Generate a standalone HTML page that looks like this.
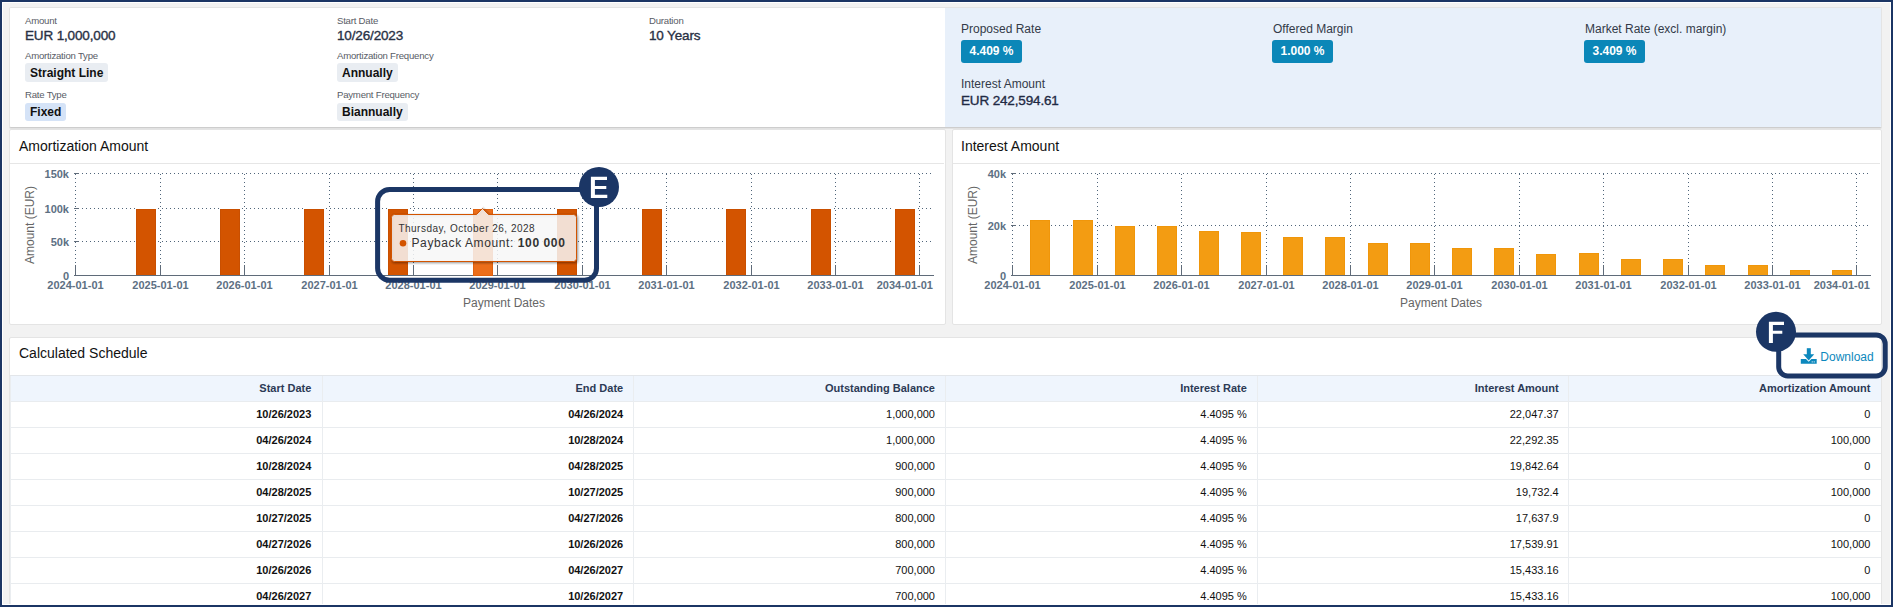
<!DOCTYPE html>
<html><head><meta charset="utf-8">
<style>
*{box-sizing:border-box;margin:0;padding:0}
html,body{width:1893px;height:607px;overflow:hidden;background:#1b3564;font-family:"Liberation Sans",sans-serif;position:relative}
#white{position:absolute;left:2px;top:2px;width:1889px;height:603px;background:#fff}
#bg{position:absolute;left:3px;top:3px;width:1887px;height:601px;background:#f2f2f2}
#clip{position:absolute;left:3px;top:3px;width:1887px;height:601px;overflow:hidden}
#clip>*{position:absolute}
.card{background:#fff;border:1px solid #e4e4e4;border-radius:2px}
.abs{position:absolute;white-space:nowrap}
.lbl{font-size:9.6px;color:#585c66;line-height:11px;letter-spacing:-0.22px}
.val{font-size:13.5px;font-weight:normal;color:#283044;line-height:15px;-webkit-text-stroke:0.35px #283044;letter-spacing:-0.15px}
.chip{position:absolute;height:19px;line-height:18px;padding:1px 5px 0 5px;font-size:12px;font-weight:bold;color:#111;background:#e9edf2;border-radius:3px;white-space:nowrap}
.chip.blue{background:#d5e3f7}
.rl{font-size:12px;color:#333a48;line-height:14px}
.badge{position:absolute;height:23px;line-height:22px;padding:0 8.5px;font-size:12px;font-weight:bold;color:#fff;background:#0b87b8;border-radius:3px;white-space:nowrap}
.ctitle{font-size:14px;color:#111;line-height:16px}
.hline{position:absolute;height:1px;background:#e6e6e6}
.thead{position:absolute;left:10px;width:1871px;height:27px;background:#eff5fd;border-top:1px solid #e3e6ea;border-bottom:1px solid #e3e6ea}
.th{position:absolute;height:25px;line-height:25px;padding-right:10.5px;text-align:right;font-size:11px;font-weight:bold;color:#2c3a55;white-space:nowrap}
.td{position:absolute;height:25px;line-height:25px;padding-right:10.5px;text-align:right;font-size:11px;color:#111;white-space:nowrap}
.td.b{font-weight:bold}
.tline{position:absolute;left:10px;width:1871px;height:1px;background:#e9ecef}
.vline{position:absolute;top:376px;width:1px;height:228px;background:#eaedf0}
</style></head><body>
<div id="white"></div>
<div id="bg"></div>
<div id="clip">
  <!-- all children: page coords minus 3 -->
  <!-- top summary card: border box x 9..1881, y 7..127 -->
  <div class="card" style="left:6px;top:4px;width:1873px;height:121px;overflow:hidden;border-bottom-color:#cdcdcd;box-shadow:0 1px 0 #e2e2e2">
    <div style="position:absolute;left:935px;top:0;width:940px;height:121px;background:#e8f0fa"></div>
  </div>
  <!-- chart cards -->
  <div class="card" style="left:6px;top:126px;width:937px;height:196px"></div>
  <div class="card" style="left:949px;top:126px;width:930px;height:196px"></div>
  <!-- table card -->
  <div class="card" style="left:6px;top:334px;width:1873px;height:300px"></div>
</div>
<!-- content in page coords -->
<div id="content" style="position:absolute;left:0;top:0;width:1893px;height:607px">
  <!-- top-left info -->
  <div class="abs lbl" style="left:25px;top:14.5px">Amount</div>
  <div class="abs val" style="left:25px;top:28px">EUR 1,000,000</div>
  <div class="abs lbl" style="left:25px;top:49.5px">Amortization Type</div>
  <div class="chip" style="left:25px;top:63px">Straight Line</div>
  <div class="abs lbl" style="left:25px;top:88.5px">Rate Type</div>
  <div class="chip blue" style="left:25px;top:103px;height:18px;line-height:17px">Fixed</div>

  <div class="abs lbl" style="left:337px;top:14.5px">Start Date</div>
  <div class="abs val" style="left:337px;top:28px">10/26/2023</div>
  <div class="abs lbl" style="left:337px;top:49.5px">Amortization Frequency</div>
  <div class="chip" style="left:337px;top:63px">Annually</div>
  <div class="abs lbl" style="left:337px;top:88.5px">Payment Frequency</div>
  <div class="chip" style="left:337px;top:103px;height:18px;line-height:17px">Biannually</div>

  <div class="abs lbl" style="left:649px;top:14.5px">Duration</div>
  <div class="abs val" style="left:649px;top:28px">10 Years</div>

  <!-- top-right rates -->
  <div class="abs rl" style="left:961px;top:22px">Proposed Rate</div>
  <div class="badge" style="left:961px;top:40px">4.409 %</div>
  <div class="abs rl" style="left:961px;top:77px">Interest Amount</div>
  <div class="abs val" style="left:961px;top:93px;color:#1f2a44;-webkit-text-stroke-color:#1f2a44">EUR 242,594.61</div>
  <div class="abs rl" style="left:1273px;top:22px">Offered Margin</div>
  <div class="badge" style="left:1272px;top:40px">1.000 %</div>
  <div class="abs rl" style="left:1585px;top:22px">Market Rate (excl. margin)</div>
  <div class="badge" style="left:1584px;top:40px">3.409 %</div>
  <div class="abs ctitle" style="left:19px;top:138px">Amortization Amount</div>
  <div class="hline" style="left:10px;top:163px;width:934px"></div>
  <div class="abs ctitle" style="left:961px;top:138px">Interest Amount</div>
  <div class="hline" style="left:953px;top:163px;width:927px"></div>
  <div class="abs ctitle" style="left:19px;top:345px">Calculated Schedule</div>
  <svg id="charts" width="1893" height="607" viewBox="0 0 1893 607" style="position:absolute;left:0;top:0">
<style>.ax{font:bold 11px "Liberation Sans",sans-serif;fill:#5d7083} .at{font:12px "Liberation Sans",sans-serif;fill:#666666}</style>
<line x1="74" y1="173.5" x2="931" y2="173.5" stroke="#50657a" stroke-dasharray="1,3"/>
<line x1="74" y1="208.5" x2="931" y2="208.5" stroke="#50657a" stroke-dasharray="1,3"/>
<line x1="74" y1="241.5" x2="931" y2="241.5" stroke="#50657a" stroke-dasharray="1,3"/>
<line x1="75.5" y1="174" x2="75.5" y2="265" stroke="#50657a" stroke-dasharray="1,3"/>
<line x1="75.5" y1="265" x2="75.5" y2="275" stroke="#5f6b79"/>
<line x1="160.5" y1="174" x2="160.5" y2="265" stroke="#50657a" stroke-dasharray="1,3"/>
<line x1="160.5" y1="265" x2="160.5" y2="275" stroke="#5f6b79"/>
<line x1="244.5" y1="174" x2="244.5" y2="265" stroke="#50657a" stroke-dasharray="1,3"/>
<line x1="244.5" y1="265" x2="244.5" y2="275" stroke="#5f6b79"/>
<line x1="329.5" y1="174" x2="329.5" y2="265" stroke="#50657a" stroke-dasharray="1,3"/>
<line x1="329.5" y1="265" x2="329.5" y2="275" stroke="#5f6b79"/>
<line x1="413.5" y1="174" x2="413.5" y2="265" stroke="#50657a" stroke-dasharray="1,3"/>
<line x1="413.5" y1="265" x2="413.5" y2="275" stroke="#5f6b79"/>
<line x1="497.5" y1="174" x2="497.5" y2="265" stroke="#50657a" stroke-dasharray="1,3"/>
<line x1="497.5" y1="265" x2="497.5" y2="275" stroke="#5f6b79"/>
<line x1="582.5" y1="174" x2="582.5" y2="265" stroke="#50657a" stroke-dasharray="1,3"/>
<line x1="582.5" y1="265" x2="582.5" y2="275" stroke="#5f6b79"/>
<line x1="666.5" y1="174" x2="666.5" y2="265" stroke="#50657a" stroke-dasharray="1,3"/>
<line x1="666.5" y1="265" x2="666.5" y2="275" stroke="#5f6b79"/>
<line x1="751.5" y1="174" x2="751.5" y2="265" stroke="#50657a" stroke-dasharray="1,3"/>
<line x1="751.5" y1="265" x2="751.5" y2="275" stroke="#5f6b79"/>
<line x1="835.5" y1="174" x2="835.5" y2="265" stroke="#50657a" stroke-dasharray="1,3"/>
<line x1="835.5" y1="265" x2="835.5" y2="275" stroke="#5f6b79"/>
<line x1="919.5" y1="174" x2="919.5" y2="265" stroke="#50657a" stroke-dasharray="1,3"/>
<line x1="919.5" y1="265" x2="919.5" y2="275" stroke="#5f6b79"/>
<rect x="135" y="208" width="22" height="67" fill="#fff"/>
<rect x="136.5" y="209.5" width="19" height="66" fill="#d35400" stroke="#c94f00" stroke-width="1"/>
<rect x="219" y="208" width="22" height="67" fill="#fff"/>
<rect x="220.5" y="209.5" width="19" height="66" fill="#d35400" stroke="#c94f00" stroke-width="1"/>
<rect x="303" y="208" width="22" height="67" fill="#fff"/>
<rect x="304.5" y="209.5" width="19" height="66" fill="#d35400" stroke="#c94f00" stroke-width="1"/>
<rect x="387" y="208" width="22" height="67" fill="#fff"/>
<rect x="388.5" y="209.5" width="19" height="66" fill="#d35400" stroke="#c94f00" stroke-width="1"/>
<rect x="472" y="208" width="22" height="67" fill="#fff"/>
<rect x="473.5" y="209.5" width="19" height="66" fill="#d35400" stroke="#c94f00" stroke-width="1"/>
<rect x="556" y="208" width="22" height="67" fill="#fff"/>
<rect x="557.5" y="209.5" width="19" height="66" fill="#d35400" stroke="#c94f00" stroke-width="1"/>
<rect x="641" y="208" width="22" height="67" fill="#fff"/>
<rect x="642.5" y="209.5" width="19" height="66" fill="#d35400" stroke="#c94f00" stroke-width="1"/>
<rect x="725" y="208" width="22" height="67" fill="#fff"/>
<rect x="726.5" y="209.5" width="19" height="66" fill="#d35400" stroke="#c94f00" stroke-width="1"/>
<rect x="810" y="208" width="22" height="67" fill="#fff"/>
<rect x="811.5" y="209.5" width="19" height="66" fill="#d35400" stroke="#c94f00" stroke-width="1"/>
<rect x="894" y="208" width="22" height="67" fill="#fff"/>
<rect x="895.5" y="209.5" width="19" height="66" fill="#d35400" stroke="#c94f00" stroke-width="1"/>
<line x1="74" y1="173.5" x2="79" y2="173.5" stroke="#5f6b79"/>
<line x1="74" y1="208.5" x2="79" y2="208.5" stroke="#5f6b79"/>
<line x1="74" y1="241.5" x2="79" y2="241.5" stroke="#5f6b79"/>
<line x1="74" y1="275.5" x2="934" y2="275.5" stroke="#5f6b79"/>
<text x="69" y="178" text-anchor="end" class="ax">150k</text>
<text x="69" y="213" text-anchor="end" class="ax">100k</text>
<text x="69" y="246" text-anchor="end" class="ax">50k</text>
<text x="69" y="280" text-anchor="end" class="ax">0</text>
<text x="75.5" y="289" text-anchor="middle" class="ax">2024-01-01</text>
<text x="160.5" y="289" text-anchor="middle" class="ax">2025-01-01</text>
<text x="244.5" y="289" text-anchor="middle" class="ax">2026-01-01</text>
<text x="329.5" y="289" text-anchor="middle" class="ax">2027-01-01</text>
<text x="413.5" y="289" text-anchor="middle" class="ax">2028-01-01</text>
<text x="497.5" y="289" text-anchor="middle" class="ax">2029-01-01</text>
<text x="582.5" y="289" text-anchor="middle" class="ax">2030-01-01</text>
<text x="666.5" y="289" text-anchor="middle" class="ax">2031-01-01</text>
<text x="751.5" y="289" text-anchor="middle" class="ax">2032-01-01</text>
<text x="835.5" y="289" text-anchor="middle" class="ax">2033-01-01</text>
<text x="933" y="289" text-anchor="end" class="ax">2034-01-01</text>
<text x="504.0" y="307" text-anchor="middle" class="at">Payment Dates</text>
<text transform="translate(34.3,225) rotate(-90)" text-anchor="middle" class="at">Amount (EUR)</text>
<line x1="1011" y1="173.5" x2="1868" y2="173.5" stroke="#50657a" stroke-dasharray="1,3"/>
<line x1="1011" y1="225.5" x2="1868" y2="225.5" stroke="#50657a" stroke-dasharray="1,3"/>
<line x1="1012.5" y1="174" x2="1012.5" y2="265" stroke="#50657a" stroke-dasharray="1,3"/>
<line x1="1012.5" y1="265" x2="1012.5" y2="275" stroke="#5f6b79"/>
<line x1="1097.5" y1="174" x2="1097.5" y2="265" stroke="#50657a" stroke-dasharray="1,3"/>
<line x1="1097.5" y1="265" x2="1097.5" y2="275" stroke="#5f6b79"/>
<line x1="1181.5" y1="174" x2="1181.5" y2="265" stroke="#50657a" stroke-dasharray="1,3"/>
<line x1="1181.5" y1="265" x2="1181.5" y2="275" stroke="#5f6b79"/>
<line x1="1266.5" y1="174" x2="1266.5" y2="265" stroke="#50657a" stroke-dasharray="1,3"/>
<line x1="1266.5" y1="265" x2="1266.5" y2="275" stroke="#5f6b79"/>
<line x1="1350.5" y1="174" x2="1350.5" y2="265" stroke="#50657a" stroke-dasharray="1,3"/>
<line x1="1350.5" y1="265" x2="1350.5" y2="275" stroke="#5f6b79"/>
<line x1="1434.5" y1="174" x2="1434.5" y2="265" stroke="#50657a" stroke-dasharray="1,3"/>
<line x1="1434.5" y1="265" x2="1434.5" y2="275" stroke="#5f6b79"/>
<line x1="1519.5" y1="174" x2="1519.5" y2="265" stroke="#50657a" stroke-dasharray="1,3"/>
<line x1="1519.5" y1="265" x2="1519.5" y2="275" stroke="#5f6b79"/>
<line x1="1603.5" y1="174" x2="1603.5" y2="265" stroke="#50657a" stroke-dasharray="1,3"/>
<line x1="1603.5" y1="265" x2="1603.5" y2="275" stroke="#5f6b79"/>
<line x1="1688.5" y1="174" x2="1688.5" y2="265" stroke="#50657a" stroke-dasharray="1,3"/>
<line x1="1688.5" y1="265" x2="1688.5" y2="275" stroke="#5f6b79"/>
<line x1="1772.5" y1="174" x2="1772.5" y2="265" stroke="#50657a" stroke-dasharray="1,3"/>
<line x1="1772.5" y1="265" x2="1772.5" y2="275" stroke="#5f6b79"/>
<line x1="1856.5" y1="174" x2="1856.5" y2="265" stroke="#50657a" stroke-dasharray="1,3"/>
<line x1="1856.5" y1="265" x2="1856.5" y2="275" stroke="#5f6b79"/>
<rect x="1029" y="219" width="22" height="56" fill="#fff"/>
<rect x="1030.5" y="220.5" width="19" height="55" fill="#f39c12" stroke="#f0960a" stroke-width="1"/>
<rect x="1072" y="219" width="22" height="56" fill="#fff"/>
<rect x="1073.5" y="220.5" width="19" height="55" fill="#f39c12" stroke="#f0960a" stroke-width="1"/>
<rect x="1114" y="225" width="22" height="50" fill="#fff"/>
<rect x="1115.5" y="226.5" width="19" height="49" fill="#f39c12" stroke="#f0960a" stroke-width="1"/>
<rect x="1156" y="225" width="22" height="50" fill="#fff"/>
<rect x="1157.5" y="226.5" width="19" height="49" fill="#f39c12" stroke="#f0960a" stroke-width="1"/>
<rect x="1198" y="230" width="22" height="45" fill="#fff"/>
<rect x="1199.5" y="231.5" width="19" height="44" fill="#f39c12" stroke="#f0960a" stroke-width="1"/>
<rect x="1240" y="231" width="22" height="44" fill="#fff"/>
<rect x="1241.5" y="232.5" width="19" height="43" fill="#f39c12" stroke="#f0960a" stroke-width="1"/>
<rect x="1282" y="236" width="22" height="39" fill="#fff"/>
<rect x="1283.5" y="237.5" width="19" height="38" fill="#f39c12" stroke="#f0960a" stroke-width="1"/>
<rect x="1324" y="236" width="22" height="39" fill="#fff"/>
<rect x="1325.5" y="237.5" width="19" height="38" fill="#f39c12" stroke="#f0960a" stroke-width="1"/>
<rect x="1367" y="242" width="22" height="33" fill="#fff"/>
<rect x="1368.5" y="243.5" width="19" height="32" fill="#f39c12" stroke="#f0960a" stroke-width="1"/>
<rect x="1409" y="242" width="22" height="33" fill="#fff"/>
<rect x="1410.5" y="243.5" width="19" height="32" fill="#f39c12" stroke="#f0960a" stroke-width="1"/>
<rect x="1451" y="247" width="22" height="28" fill="#fff"/>
<rect x="1452.5" y="248.5" width="19" height="27" fill="#f39c12" stroke="#f0960a" stroke-width="1"/>
<rect x="1493" y="247" width="22" height="28" fill="#fff"/>
<rect x="1494.5" y="248.5" width="19" height="27" fill="#f39c12" stroke="#f0960a" stroke-width="1"/>
<rect x="1535" y="253" width="22" height="22" fill="#fff"/>
<rect x="1536.5" y="254.5" width="19" height="21" fill="#f39c12" stroke="#f0960a" stroke-width="1"/>
<rect x="1578" y="252" width="22" height="23" fill="#fff"/>
<rect x="1579.5" y="253.5" width="19" height="22" fill="#f39c12" stroke="#f0960a" stroke-width="1"/>
<rect x="1620" y="258" width="22" height="17" fill="#fff"/>
<rect x="1621.5" y="259.5" width="19" height="16" fill="#f39c12" stroke="#f0960a" stroke-width="1"/>
<rect x="1662" y="258" width="22" height="17" fill="#fff"/>
<rect x="1663.5" y="259.5" width="19" height="16" fill="#f39c12" stroke="#f0960a" stroke-width="1"/>
<rect x="1704" y="264" width="22" height="11" fill="#fff"/>
<rect x="1705.5" y="265.5" width="19" height="10" fill="#f39c12" stroke="#f0960a" stroke-width="1"/>
<rect x="1747" y="264" width="22" height="11" fill="#fff"/>
<rect x="1748.5" y="265.5" width="19" height="10" fill="#f39c12" stroke="#f0960a" stroke-width="1"/>
<rect x="1789" y="269" width="22" height="6" fill="#fff"/>
<rect x="1790.5" y="270.5" width="19" height="5" fill="#f39c12" stroke="#f0960a" stroke-width="1"/>
<rect x="1831" y="269" width="22" height="6" fill="#fff"/>
<rect x="1832.5" y="270.5" width="19" height="5" fill="#f39c12" stroke="#f0960a" stroke-width="1"/>
<line x1="1011" y1="173.5" x2="1016" y2="173.5" stroke="#5f6b79"/>
<line x1="1011" y1="225.5" x2="1016" y2="225.5" stroke="#5f6b79"/>
<line x1="1011" y1="275.5" x2="1871" y2="275.5" stroke="#5f6b79"/>
<text x="1006" y="178" text-anchor="end" class="ax">40k</text>
<text x="1006" y="230" text-anchor="end" class="ax">20k</text>
<text x="1006" y="280" text-anchor="end" class="ax">0</text>
<text x="1012.5" y="289" text-anchor="middle" class="ax">2024-01-01</text>
<text x="1097.5" y="289" text-anchor="middle" class="ax">2025-01-01</text>
<text x="1181.5" y="289" text-anchor="middle" class="ax">2026-01-01</text>
<text x="1266.5" y="289" text-anchor="middle" class="ax">2027-01-01</text>
<text x="1350.5" y="289" text-anchor="middle" class="ax">2028-01-01</text>
<text x="1434.5" y="289" text-anchor="middle" class="ax">2029-01-01</text>
<text x="1519.5" y="289" text-anchor="middle" class="ax">2030-01-01</text>
<text x="1603.5" y="289" text-anchor="middle" class="ax">2031-01-01</text>
<text x="1688.5" y="289" text-anchor="middle" class="ax">2032-01-01</text>
<text x="1772.5" y="289" text-anchor="middle" class="ax">2033-01-01</text>
<text x="1870" y="289" text-anchor="end" class="ax">2034-01-01</text>
<text x="1441.0" y="307" text-anchor="middle" class="at">Payment Dates</text>
<text transform="translate(977.3,225) rotate(-90)" text-anchor="middle" class="at">Amount (EUR)</text>
</svg>
  <div class="thead" style="top:375px"></div>
<div class="th" style="left:10px;width:311.8px;top:376px">Start Date</div>
<div class="th" style="left:321.8px;width:311.9px;top:376px">End Date</div>
<div class="th" style="left:633.7px;width:311.8px;top:376px">Outstanding Balance</div>
<div class="th" style="left:945.5px;width:311.8px;top:376px">Interest Rate</div>
<div class="th" style="left:1257.3px;width:311.9px;top:376px">Interest Amount</div>
<div class="th" style="left:1569.2px;width:311.8px;top:376px">Amortization Amount</div>
<div class="tline" style="top:401px"></div>
<div class="td b" style="left:10px;width:311.8px;top:402px">10/26/2023</div>
<div class="td b" style="left:321.8px;width:311.9px;top:402px">04/26/2024</div>
<div class="td" style="left:633.7px;width:311.8px;top:402px">1,000,000</div>
<div class="td" style="left:945.5px;width:311.8px;top:402px">4.4095 %</div>
<div class="td" style="left:1257.3px;width:311.9px;top:402px">22,047.37</div>
<div class="td" style="left:1569.2px;width:311.8px;top:402px">0</div>
<div class="tline" style="top:427px"></div>
<div class="td b" style="left:10px;width:311.8px;top:428px">04/26/2024</div>
<div class="td b" style="left:321.8px;width:311.9px;top:428px">10/28/2024</div>
<div class="td" style="left:633.7px;width:311.8px;top:428px">1,000,000</div>
<div class="td" style="left:945.5px;width:311.8px;top:428px">4.4095 %</div>
<div class="td" style="left:1257.3px;width:311.9px;top:428px">22,292.35</div>
<div class="td" style="left:1569.2px;width:311.8px;top:428px">100,000</div>
<div class="tline" style="top:453px"></div>
<div class="td b" style="left:10px;width:311.8px;top:454px">10/28/2024</div>
<div class="td b" style="left:321.8px;width:311.9px;top:454px">04/28/2025</div>
<div class="td" style="left:633.7px;width:311.8px;top:454px">900,000</div>
<div class="td" style="left:945.5px;width:311.8px;top:454px">4.4095 %</div>
<div class="td" style="left:1257.3px;width:311.9px;top:454px">19,842.64</div>
<div class="td" style="left:1569.2px;width:311.8px;top:454px">0</div>
<div class="tline" style="top:479px"></div>
<div class="td b" style="left:10px;width:311.8px;top:480px">04/28/2025</div>
<div class="td b" style="left:321.8px;width:311.9px;top:480px">10/27/2025</div>
<div class="td" style="left:633.7px;width:311.8px;top:480px">900,000</div>
<div class="td" style="left:945.5px;width:311.8px;top:480px">4.4095 %</div>
<div class="td" style="left:1257.3px;width:311.9px;top:480px">19,732.4</div>
<div class="td" style="left:1569.2px;width:311.8px;top:480px">100,000</div>
<div class="tline" style="top:505px"></div>
<div class="td b" style="left:10px;width:311.8px;top:506px">10/27/2025</div>
<div class="td b" style="left:321.8px;width:311.9px;top:506px">04/27/2026</div>
<div class="td" style="left:633.7px;width:311.8px;top:506px">800,000</div>
<div class="td" style="left:945.5px;width:311.8px;top:506px">4.4095 %</div>
<div class="td" style="left:1257.3px;width:311.9px;top:506px">17,637.9</div>
<div class="td" style="left:1569.2px;width:311.8px;top:506px">0</div>
<div class="tline" style="top:531px"></div>
<div class="td b" style="left:10px;width:311.8px;top:532px">04/27/2026</div>
<div class="td b" style="left:321.8px;width:311.9px;top:532px">10/26/2026</div>
<div class="td" style="left:633.7px;width:311.8px;top:532px">800,000</div>
<div class="td" style="left:945.5px;width:311.8px;top:532px">4.4095 %</div>
<div class="td" style="left:1257.3px;width:311.9px;top:532px">17,539.91</div>
<div class="td" style="left:1569.2px;width:311.8px;top:532px">100,000</div>
<div class="tline" style="top:557px"></div>
<div class="td b" style="left:10px;width:311.8px;top:558px">10/26/2026</div>
<div class="td b" style="left:321.8px;width:311.9px;top:558px">04/26/2027</div>
<div class="td" style="left:633.7px;width:311.8px;top:558px">700,000</div>
<div class="td" style="left:945.5px;width:311.8px;top:558px">4.4095 %</div>
<div class="td" style="left:1257.3px;width:311.9px;top:558px">15,433.16</div>
<div class="td" style="left:1569.2px;width:311.8px;top:558px">0</div>
<div class="tline" style="top:583px"></div>
<div class="td b" style="left:10px;width:311.8px;top:584px">04/26/2027</div>
<div class="td b" style="left:321.8px;width:311.9px;top:584px">10/26/2027</div>
<div class="td" style="left:633.7px;width:311.8px;top:584px">700,000</div>
<div class="td" style="left:945.5px;width:311.8px;top:584px">4.4095 %</div>
<div class="td" style="left:1257.3px;width:311.9px;top:584px">15,433.16</div>
<div class="td" style="left:1569.2px;width:311.8px;top:584px">100,000</div>
<div class="vline" style="left:10px"></div>
<div class="vline" style="left:322px"></div>
<div class="vline" style="left:633px"></div>
<div class="vline" style="left:945px"></div>
<div class="vline" style="left:1257px"></div>
<div class="vline" style="left:1568px"></div>
  <svg id="ov" width="1893" height="607" viewBox="0 0 1893 607" style="position:absolute;left:0;top:0">
  <!-- hovered bar -->
  <rect x="472" y="208" width="22" height="67" fill="#fff"/><rect x="473.5" y="209.5" width="19" height="66" fill="#ec6e1a" stroke="#e0620f"/>
  <!-- tooltip shadow -->
  <g transform="translate(1,1)" fill="none">
    <path d="M394.5 214.5 L476.5 214.5 L482.5 208.5 L488.5 214.5 L573.5 214.5 Q576.5 214.5 576.5 217.5 L576.5 258.5 Q576.5 261.5 573.5 261.5 L394.5 261.5 Q391.5 261.5 391.5 258.5 L391.5 217.5 Q391.5 214.5 394.5 214.5 Z" stroke="rgba(0,0,0,0.05)" stroke-width="5"/>
    <path d="M394.5 214.5 L476.5 214.5 L482.5 208.5 L488.5 214.5 L573.5 214.5 Q576.5 214.5 576.5 217.5 L576.5 258.5 Q576.5 261.5 573.5 261.5 L394.5 261.5 Q391.5 261.5 391.5 258.5 L391.5 217.5 Q391.5 214.5 394.5 214.5 Z" stroke="rgba(0,0,0,0.1)" stroke-width="3"/>
    <path d="M394.5 214.5 L476.5 214.5 L482.5 208.5 L488.5 214.5 L573.5 214.5 Q576.5 214.5 576.5 217.5 L576.5 258.5 Q576.5 261.5 573.5 261.5 L394.5 261.5 Q391.5 261.5 391.5 258.5 L391.5 217.5 Q391.5 214.5 394.5 214.5 Z" stroke="rgba(0,0,0,0.15)" stroke-width="1"/>
  </g>
  <path d="M394.5 214.5 L476.5 214.5 L482.5 208.5 L488.5 214.5 L573.5 214.5 Q576.5 214.5 576.5 217.5 L576.5 258.5 Q576.5 261.5 573.5 261.5 L394.5 261.5 Q391.5 261.5 391.5 258.5 L391.5 217.5 Q391.5 214.5 394.5 214.5 Z" fill="rgba(247,247,247,0.85)" stroke="#d35400" stroke-width="1"/>
  <text x="398.4" y="232" style="font:10px 'Liberation Sans',sans-serif;letter-spacing:.5px;fill:#333">Thursday, October 26, 2028</text>
  <circle cx="403" cy="243.2" r="3.3" fill="#d35400"/>
  <text x="411.5" y="247" style="font:12px 'Liberation Sans',sans-serif;letter-spacing:.6px;fill:#333">Payback Amount: <tspan font-weight="bold">100 000</tspan></text>

  <!-- download button -->
  <g fill="#0c88bd">
    <rect x="1806.8" y="348.2" width="4" height="7"/>
    <path d="M1803.2 354.2 L1814.2 354.2 L1808.7 360.6 Z"/>
    <path d="M1800.8 359 L1806 359 L1808.7 361.8 L1811.4 359 L1816.7 359 L1816.7 363.8 L1800.8 363.8 Z"/>
  </g>
  <rect x="1811.6" y="361.4" width="1.3" height="1" fill="#fff" opacity=".8"/>
  <rect x="1813.6" y="361.4" width="1.3" height="1" fill="#fff" opacity=".8"/>
  <text x="1820.3" y="360.8" style="font:12px 'Liberation Sans',sans-serif;fill:#0c88bd">Download</text>

  <!-- annotation E -->
  <rect x="377.6" y="189.4" width="218.9" height="90.8" rx="12" ry="12" fill="none" stroke="#1b3665" stroke-width="5"/>
  <circle cx="599" cy="187" r="20" fill="#1b3665"/>
  <path d="M590.9 176.7 H607 V179.9 H594.9 V186.1 H606.3 V189.1 H594.9 V194.7 H607.3 V198 H590.9 Z" fill="#fff"/>
  <!-- annotation F -->
  <rect x="1778.7" y="334.9" width="106.5" height="41" rx="9" ry="9" fill="none" stroke="#1b3665" stroke-width="5"/>
  <circle cx="1776" cy="331.8" r="20" fill="#1b3665"/>
  <path d="M1768.9 321.7 H1784 V324.9 H1772.9 V330.8 H1782.3 V333.8 H1772.9 V343 H1768.9 Z" fill="#fff"/>
</svg>
</div>
</body></html>
